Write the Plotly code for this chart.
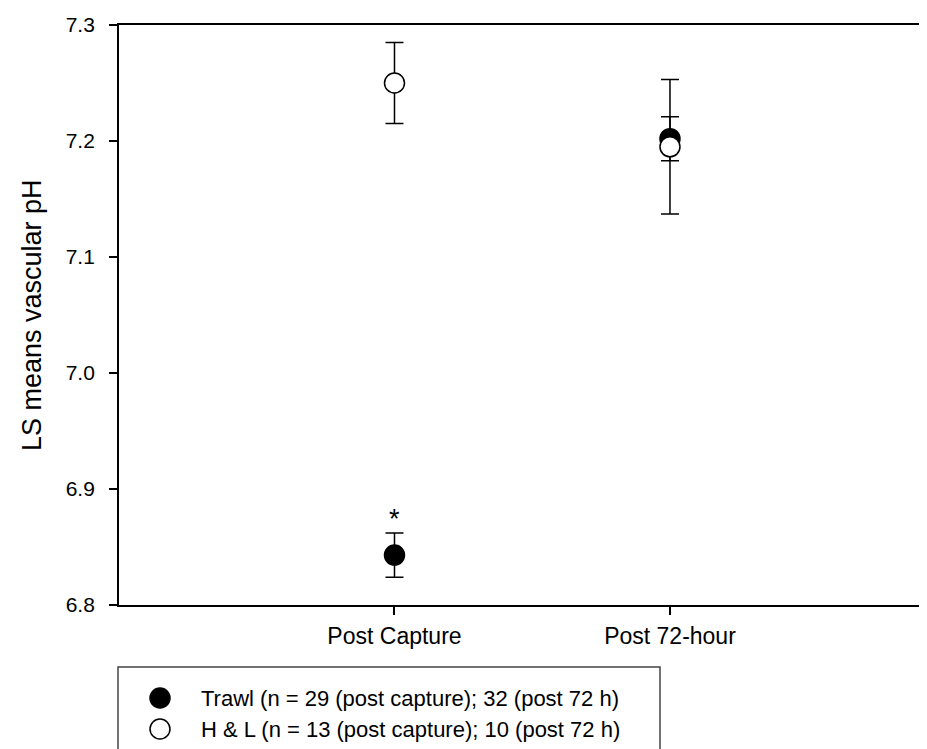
import plotly.graph_objects as go

categories = ["Post Capture", "Post 72-hour"]
x_pos = [1, 2]
trawl_mean = [6.843, 7.202]
trawl_se = [0.019, 0.019]
hl_mean = [7.250, 7.195]
hl_se = [0.035, 0.058]
y_ticks = [6.8, 6.9, 7.0, 7.1, 7.2, 7.3]
series_names = ["Trawl (n = 29 (post capture); 32 (post 72 h)",
                "H & L (n = 13 (post capture); 10 (post 72 h)"]
series_fill = ["black", "white"]
star_x = 1
star_y = 6.874

FONT = "Arial, Liberation Sans, sans-serif"
W, H = 927, 749
ML, MR, MT, MB = 111, 0, 17, 152
PW, PH = W - ML - MR, H - MT - MB


def px_x(px):
    return (px - ML) / PW


def px_y(py):
    return (H - MB - py) / PH


fig = go.Figure()
for mean, se, name, fill in [(trawl_mean, trawl_se, series_names[0], series_fill[0]),
                             (hl_mean, hl_se, series_names[1], series_fill[1])]:
    fig.add_trace(go.Scatter(
        x=x_pos, y=mean, mode="markers", name=name, showlegend=False,
        marker=dict(symbol="circle", size=20, color=fill, line=dict(color="black", width=1.5)),
        error_y=dict(type="data", array=se, visible=True, color="black", thickness=1.5, width=9),
    ))

fig.add_annotation(x=star_x, y=star_y, text="*", showarrow=False,
                   font=dict(family=FONT, size=27, color="black"))

# y-axis title
fig.add_annotation(x=px_x(24), y=0.5, xref="paper", yref="paper", text="LS means vascular pH",
                   textangle=-90, showarrow=False, xanchor="center", yanchor="middle",
                   font=dict(family=FONT, size=27, color="black"))

# legend box
shapes = [dict(type="rect", xref="paper", yref="paper",
               x0=px_x(110), x1=px_x(652), y0=px_y(659), y1=px_y(770),
               line=dict(color="#444444", width=1.5), fillcolor="rgba(0,0,0,0)")]
rows_y = [690, 721]
for ry, name, fill in zip(rows_y, series_names, series_fill):
    shapes.append(dict(type="circle", xref="paper", yref="paper",
                       xsizemode="pixel", ysizemode="pixel",
                       xanchor=px_x(152), yanchor=px_y(ry),
                       x0=-10, x1=10, y0=-10, y1=10,
                       line=dict(color="black", width=1.5), fillcolor=fill))
    fig.add_annotation(x=px_x(191), y=px_y(ry), xref="paper", yref="paper", text=name,
                       showarrow=False, xanchor="left", yanchor="middle",
                       font=dict(family=FONT, size=22, color="black"))

fig.update_layout(
    width=W, height=H,
    paper_bgcolor="white", plot_bgcolor="white",
    margin=dict(l=ML, r=MR, t=MT, b=MB),
    font=dict(family=FONT, size=21, color="black"),
    showlegend=False,
    shapes=shapes,
)
fig.update_xaxes(
    range=[0, 2.962], tickvals=x_pos, ticktext=categories,
    showline=True, linecolor="black", linewidth=1.8, mirror=True,
    ticks="outside", ticklen=8, tickwidth=1.5, tickcolor="black",
    showgrid=False, zeroline=False, tickfont=dict(size=23), ticklabelstandoff=1,
)
fig.update_yaxes(
    range=[6.8, 7.3], tickvals=y_ticks, ticktext=[f"{v:.1f}" for v in y_ticks],
    showline=True, linecolor="black", linewidth=1.8,
    ticks="outside", ticklen=8, tickwidth=1.5, tickcolor="black",
    showgrid=False, zeroline=False, tickfont=dict(size=21), ticklabelstandoff=10,
)
fig.write_html("out.html")
